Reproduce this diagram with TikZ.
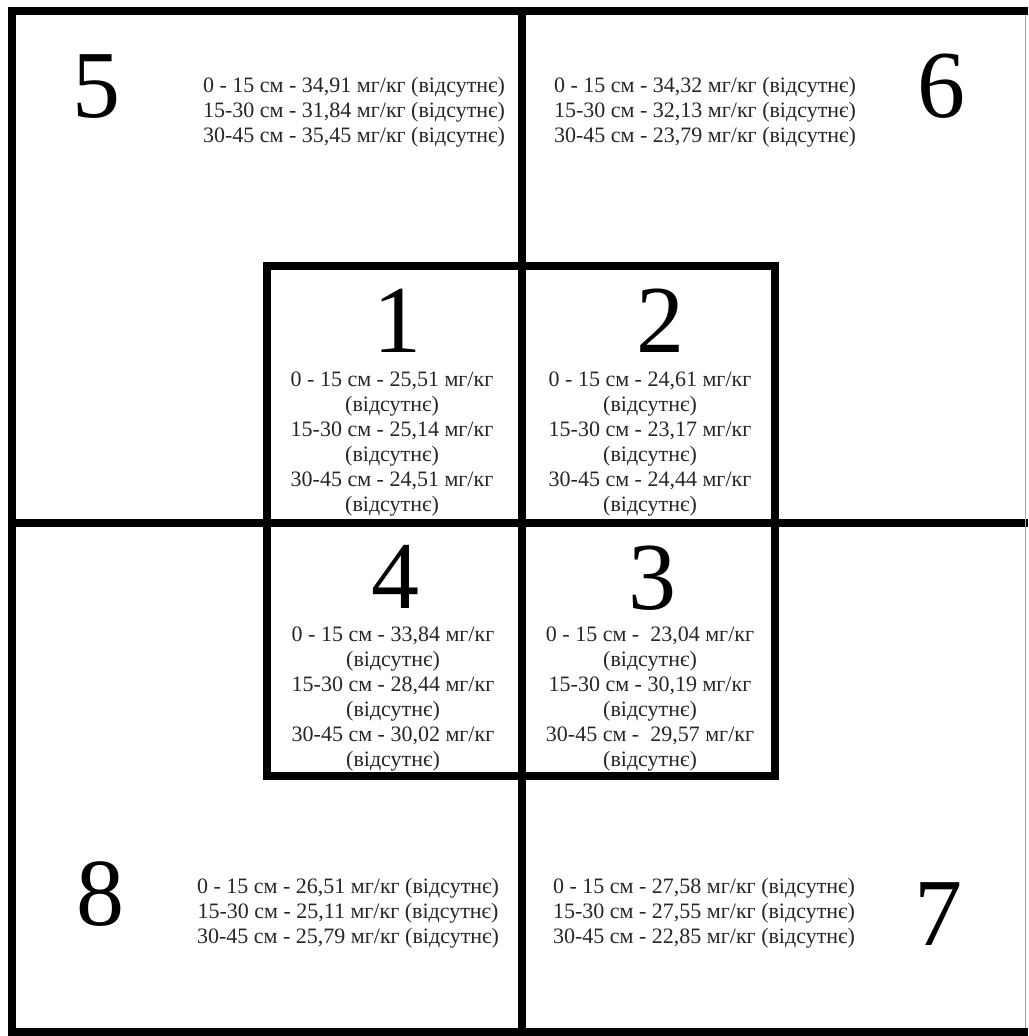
\documentclass[tikz,border=0pt]{standalone}
\usepackage{fontspec}
\setmainfont{Liberation Serif}

\begin{document}
\begin{tikzpicture}[
    x=0.5pt, y=-0.5pt,
    wall/.style={line width=4pt},
    innerwall/.style={line width=3.6pt},
    plotno/.style={anchor=base, inner sep=0pt, font=\fontsize{48}{48}\selectfont},
    data/.style={align=center, inner sep=0pt, text=black!85, font=\fontsize{11}{12.5}\selectfont}
]
    \useasboundingbox (0,0) rectangle (1028,1036);

    % frame and cross
    \draw[wall] (1028,11) -- (12,11) -- (12,1032) -- (1028,1032);
    \draw[wall] (522,11) -- (522,1032);
    \draw[wall] (12,523) -- (1028,523);
    \draw[black!35, line width=0.5pt] (1025.5,15) -- (1025.5,1028);

    % inner square
    \draw[innerwall] (267,266) rectangle (775,776);

    % outer plots
    \node[plotno] (n5) at (96,118) {5};
    \node[plotno] (n6) at (941,118) {6};
    \node[plotno] (n8) at (100,925) {8};
    \node[plotno] (n7) at (938,945) {7};

    \node[data] (d5) at (354,112) {0 - 15 см - 34,91 мг/кг (відсутнє)\\15-30 см - 31,84 мг/кг (відсутнє)\\30-45 см - 35,45 мг/кг (відсутнє)};
    \node[data] (d6) at (705,112) {0 - 15 см - 34,32 мг/кг (відсутнє)\\15-30 см - 32,13 мг/кг (відсутнє)\\30-45 см - 23,79 мг/кг (відсутнє)};
    \node[data] (d8) at (348,913) {0 - 15 см - 26,51 мг/кг (відсутнє)\\15-30 см - 25,11 мг/кг (відсутнє)\\30-45 см - 25,79 мг/кг (відсутнє)};
    \node[data] (d7) at (704,913) {0 - 15 см - 27,58 мг/кг (відсутнє)\\15-30 см - 27,55 мг/кг (відсутнє)\\30-45 см - 22,85 мг/кг (відсутнє)};

    % inner plots
    \node[plotno] (n1) at (397,353) {1};
    \node[plotno] (n2) at (660,353) {2};
    \node[plotno] (n4) at (395,608) {4};
    \node[plotno] (n3) at (652,609) {3};

    \node[data] (d1) at (392,444) {0 - 15 см - 25,51 мг/кг\\(відсутнє)\\15-30 см - 25,14 мг/кг\\(відсутнє)\\30-45 см - 24,51 мг/кг\\(відсутнє)};
    \node[data] (d2) at (650,444) {0 - 15 см - 24,61 мг/кг\\(відсутнє)\\15-30 см - 23,17 мг/кг\\(відсутнє)\\30-45 см - 24,44 мг/кг\\(відсутнє)};
    \node[data] (d4) at (393,699) {0 - 15 см - 33,84 мг/кг\\(відсутнє)\\15-30 см - 28,44 мг/кг\\(відсутнє)\\30-45 см - 30,02 мг/кг\\(відсутнє)};
    \node[data] (d3) at (650,699) {0 - 15 см -~ 23,04 мг/кг\\(відсутнє)\\15-30 см - 30,19 мг/кг\\(відсутнє)\\30-45 см -~ 29,57 мг/кг\\(відсутнє)};
\end{tikzpicture}
\end{document}
